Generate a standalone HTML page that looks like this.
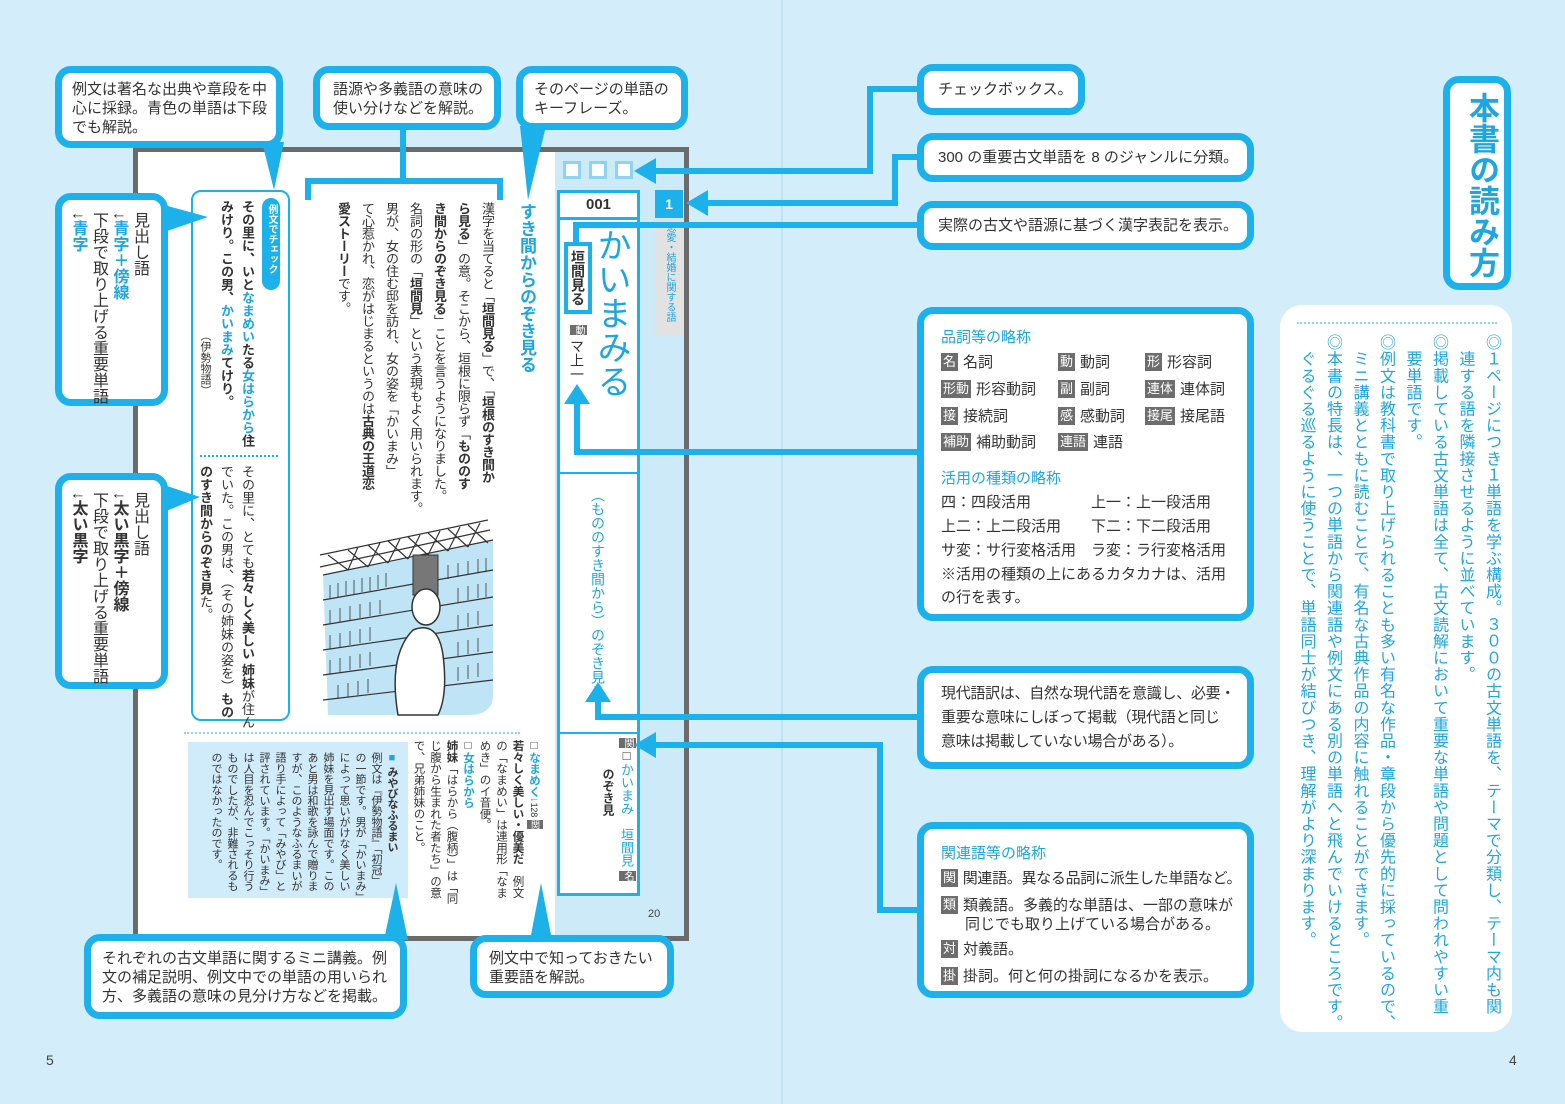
<!DOCTYPE html>
<html><head><meta charset="utf-8">
<style>
*{margin:0;padding:0;box-sizing:border-box}
body{width:1565px;height:1104px;background:#d3edfa;position:relative;overflow:hidden;font-family:"Liberation Sans","Noto Sans CJK JP",sans-serif;color:#333}
.a{position:absolute}
.v{position:absolute;writing-mode:vertical-rl;white-space:nowrap}
.cb{position:absolute;background:#fff;border:7px solid #1cb1ea;border-radius:16px;font-size:15px;line-height:19px;color:#333;white-space:nowrap}
.b{color:#1fa6e0}
.bd{font-weight:bold}
.tag{display:inline-block;background:#6d6d6d;color:#fff;font-size:13px;line-height:18px;padding:0 2px;margin-right:5px;vertical-align:1px}
.row{position:absolute;font-size:15px;white-space:nowrap}
</style></head><body>
<div class="a" style="left:781px;top:0;width:2px;height:1104px;background:#c2e3f4"></div>

<div class="a" style="left:133px;top:147px;width:556px;height:794px;border:5px solid #6b6b6b;background:#fff"></div>
<div class="a" style="left:555px;top:152px;width:129px;height:784px;background:#cdeaf8"></div>
<div class="a" style="left:563px;top:161px;width:18px;height:18px;border:3px solid #8fd3f3;background:#fff"></div>
<div class="a" style="left:589px;top:161px;width:18px;height:18px;border:3px solid #8fd3f3;background:#fff"></div>
<div class="a" style="left:615px;top:161px;width:18px;height:18px;border:3px solid #8fd3f3;background:#fff"></div>
<div class="a" style="left:557px;top:190px;width:83px;height:706px;border:3px solid #1cb1ea;background:#fff"></div>
<div class="a" style="left:557px;top:217px;width:83px;height:3px;background:#1cb1ea"></div>
<div class="a" style="left:557px;top:472px;width:83px;height:2px;background:#1cb1ea"></div>
<div class="a" style="left:557px;top:732px;width:83px;height:2px;background:#1cb1ea"></div>
<div class="a bd" style="left:560px;top:196px;width:77px;text-align:center;font-size:15px;color:#333">001</div>
<div class="v b" style="left:592px;top:228px;font-size:34px;line-height:38px">かいまみる</div>
<div class="v bd" style="left:564px;top:242px;width:28px;height:72px;border:4px solid #1cb1ea;font-size:14px;line-height:20px;padding-top:4px">垣間見る</div>
<div class="v" style="left:568px;top:325px;font-size:14px;line-height:18px"><span class="tag" style="font-size:10px;line-height:13px;margin:0 0 4px 0">動</span>マ上一</div>
<div class="v b" style="left:588px;top:488px;font-size:14px;line-height:20px">（もののすき間から）のぞき見る</div>
<div class="v" style="left:617px;top:738px;font-size:13px;line-height:18px"><span class="tag" style="font-size:10px;line-height:13px">関</span>□<span class="b">かいまみ　垣間見</span> <span class="tag" style="font-size:10px;line-height:13px">名</span></div>
<div class="v bd" style="left:600px;top:768px;font-size:12px;line-height:16px">のぞき見</div>
<div class="a" style="left:655px;top:190px;width:28px;height:28px;background:#1cb1ea;color:#fff;font-weight:bold;text-align:center;line-height:28px;font-size:14px">1</div>
<div class="v b" style="left:655px;top:218px;width:28px;height:118px;background:#e2e2e2;font-size:10px;line-height:28px;padding-top:4px">恋愛・結婚に関する語</div>
<div class="a" style="left:648px;top:908px;font-size:11px;color:#444">20</div>

<div class="v b bd" style="left:515px;top:203px;font-size:17px;line-height:22px">すき間からのぞき見る</div>
<div class="v" style="left:331px;top:202px;width:168px;font-size:13px;line-height:24px;letter-spacing:-0.5px">漢字を当てると「<b>垣間見る</b>」で、「<b>垣根のすき間か</b><br><b>ら見る</b>」の意。そこから、垣根に限らず「<b>もののす</b><br><b>き間からのぞき見る</b>」ことを言うようになりました。<br>名詞の形の「<b>垣間見</b>」という表現もよく用いられます。<br>男が、女の住む邸を訪れ、女の姿を「かいまみ」<br>て心惹かれ、恋がはじまるというのは<b>古典の王道恋</b><br><b>愛ストーリー</b>です。</div>
<div class="a" style="left:305px;top:178px;width:198px;height:22px;border:6px solid #1cb1ea;border-bottom:none"></div>
<div class="a" style="left:400px;top:128px;width:6px;height:52px;background:#1cb1ea"></div>

<div class="a" style="left:191px;top:190px;width:99px;height:531px;border:2px solid #1cb1ea;border-radius:10px;background:#fff"></div>
<div class="v" style="left:262px;top:198px;width:18px;height:92px;background:#1cb1ea;border-radius:9px;color:#fff;font-size:10px;line-height:18px;padding-top:6px;font-weight:bold">例文でチェック</div>
<div class="v bd" style="left:196px;top:200px;width:62px;font-size:13px;line-height:21px">その里に、いと<span class="b">なまめい</span>たる<span class="b">女はらから</span>住<br>みけり。この男、<span class="b">かいまみ</span>てけり。<br><span style="font-weight:normal;font-size:11px;padding-top:130px;display:inline-block">（伊勢物語）</span></div>
<div class="a" style="left:200px;top:455px;width:78px;border-top:2px dotted #1cb1ea"></div>
<div class="v" style="left:196px;top:465px;width:62px;font-size:13px;line-height:21px">その里に、とても<b>若々しく美しい 姉妹</b>が住ん<br>でいた。この男は、（その姉妹の姿を）<b>もの</b><br><b>のすき間からのぞき見</b>た。</div>

<svg class="a" style="left:318px;top:515px" width="180" height="205" viewBox="0 0 180 205">
<path d="M5 60 L175 25 L175 180 Q175 200 150 200 L10 200 Z" fill="#bfe4f6"/>
<g stroke="#333" stroke-width="1.2" fill="none">
<path d="M2 40 L170 5 M2 52 L172 15 M5 60 L175 25"/>
<path d="M10 40 L30 55 M30 35 L50 52 M50 30 L70 48 M70 26 L90 44 M90 22 L110 40 M110 18 L130 36 M130 14 L150 32 M150 10 L170 28 M30 55 L40 32 M50 52 L62 28 M70 48 L82 24 M90 44 L102 20 M110 40 L122 16 M130 36 L142 12 M150 32 L162 8"/>
<path d="M5 85 L175 55 M5 110 L175 82 M5 135 L175 110 M5 160 L175 137 M5 185 L175 165"/>
</g>
<g stroke="#333" stroke-width="0.8">
<path d="M12 70v14M20 68v14M28 66v14M36 65v14M44 63v14M52 62v14M60 60v14M68 58v14M130 50v14M140 48v14M150 46v14M160 44v14M168 43v14M12 95v14M22 93v14M32 91v14M42 89v14M52 87v14M62 85v14M140 73v14M150 71v14M160 69v14M168 68v14M12 120v14M22 118v14M32 116v14M42 114v14M52 112v14M140 100v14M150 98v14M160 96v14M12 145v14M22 143v14M32 141v14M42 139v14M52 137v14M140 127v14M150 125v14M160 123v14M20 170v14M30 168v14M40 166v14M50 164v14M140 152v14M150 150v14M160 148v14"/>
</g>
<path d="M95 40 h25 v40 h-25z" fill="#777" stroke="#333"/>
<ellipse cx="108" cy="92" rx="14" ry="18" fill="#fff" stroke="#333" stroke-width="1.5"/>
<path d="M80 200 Q70 140 95 115 Q120 105 125 140 Q130 180 120 200 Z" fill="#fff" stroke="#333" stroke-width="1.5"/>
</svg>

<div class="a" style="left:184px;top:732px;width:336px;border-top:2px dotted #8fd3f3"></div>
<div class="a" style="left:188px;top:742px;width:220px;height:156px;background:#d0ebf9"></div>
<div class="v" style="left:200px;top:752px;width:200px;font-size:11px;line-height:16px;letter-spacing:-0.3px"><b><span class="b">■</span> みやびなふるまい</b><br>例文は『伊勢物語』「初冠」<br>の一節です。男が「かいまみ」<br>によって思いがけなく美しい<br>姉妹を見出す場面です。この<br>あと男は和歌を詠んで贈りま<br>すが、このようなふるまいが<br>語り手によって「みやび」と<br>評されています。「かいまみ」<br>は人目を忍んでこっそり行う<br>ものでしたが、非難されるも<br>のではなかったのです。</div>
<div class="v" style="left:416px;top:740px;width:132px;font-size:11.5px;line-height:16.5px;letter-spacing:-0.2px">□<b class="b">なまめく↓</b><small style="font-size:9px">128</small> <span class="tag" style="font-size:9px;line-height:12px">関</span><br><b>若々しく美しい・優美だ</b>　例文<br>の「なまめい」は連用形「なま<br>めき」のイ音便。<br>□<b class="b">女はらから</b><br><b>姉妹</b>「はらから（腹柄）」は「同<br>じ腹から生まれた者たち」の意<br>で、兄弟姉妹のこと。</div>

<svg class="a" style="left:0;top:0" width="1565" height="1104">
<g stroke="#1cb1ea" stroke-width="6" fill="none">
<path d="M920 89 H870 V171 H650"/>
<path d="M920 157 H895 V203 H700"/>
<path d="M920 225 H576 V242"/>
<path d="M920 452 H577 V400"/>
<path d="M920 717 H598 V700"/>
<path d="M920 910 H880 V745 H650"/>
</g>
<g fill="#1cb1ea">
<path d="M634 171 L656 158 L656 184Z"/>
<path d="M686 203 L708 190 L708 216Z"/>
<path d="M577 384 L564 404 L590 404Z"/>
<path d="M598 682 L585 702 L611 702Z"/>
<path d="M634 745 L656 732 L656 758Z"/>
<path d="M262 142 L284 142 L274 190Z"/>
<path d="M520 126 L546 126 L528 200Z"/>
<path d="M164 205 L164 232 L208 217Z"/>
<path d="M164 485 L164 512 L200 497Z"/>
<path d="M384 940 L408 940 L396 883Z"/>
<path d="M530 940 L552 940 L541 883Z"/>
</g>
</svg>

<div class="cb" style="left:55px;top:66px;width:228px;height:82px;padding:7px 10px">例文は著名な出典や章段を中<br>心に採録。青色の単語は下段<br>でも解説。</div>
<div class="cb" style="left:313px;top:66px;width:188px;height:64px;padding:7px 13px">語源や多義語の意味の<br>使い分けなどを解説。</div>
<div class="cb" style="left:516px;top:66px;width:172px;height:64px;padding:7px 11px">そのページの単語の<br>キーフレーズ。</div>
<div class="cb" style="left:55px;top:193px;width:113px;height:213px"><div class="v" style="right:12px;top:12px;font-size:16px;line-height:20.5px">見出し語<br>↓<span class="b bd">青字＋傍線</span><br>下段で取り上げる重要単語<br>↓<span class="b bd">青字</span></div></div>
<div class="cb" style="left:55px;top:473px;width:113px;height:216px"><div class="v" style="right:12px;top:12px;font-size:16px;line-height:20.5px">見出し語<br>↓<b>太い黒字＋傍線</b><br>下段で取り上げる重要単語<br>↓<b>太い黒字</b></div></div>
<div class="cb" style="left:84px;top:934px;width:323px;height:85px;padding:8px 11px">それぞれの古文単語に関するミニ講義。例<br>文の補足説明、例文中での単語の用いられ<br>方、多義語の意味の見分け方などを掲載。</div>
<div class="cb" style="left:470px;top:935px;width:204px;height:63px;padding:7px 12px">例文中で知っておきたい<br>重要語を解説。</div>

<div class="cb" style="left:917px;top:64px;width:168px;height:51px;padding:7px 14px;line-height:23px">チェックボックス。</div>
<div class="cb" style="left:917px;top:133px;width:337px;height:49px;padding:7px 14px;line-height:22px">300 の重要古文単語を 8 のジャンルに分類。</div>
<div class="cb" style="left:917px;top:201px;width:337px;height:49px;padding:7px 14px;line-height:22px">実際の古文や語源に基づく漢字表記を表示。</div>

<div class="cb" style="left:917px;top:307px;width:337px;height:314px">
<div class="row b" style="left:17px;top:14px">品詞等の略称</div>
<div class="row" style="left:17px;top:39px"><span class="tag">名</span>名詞</div>
<div class="row" style="left:134px;top:39px"><span class="tag">動</span>動詞</div>
<div class="row" style="left:221px;top:39px"><span class="tag">形</span>形容詞</div>
<div class="row" style="left:17px;top:66px"><span class="tag">形動</span>形容動詞</div>
<div class="row" style="left:134px;top:66px"><span class="tag">副</span>副詞</div>
<div class="row" style="left:221px;top:66px"><span class="tag">連体</span>連体詞</div>
<div class="row" style="left:17px;top:93px"><span class="tag">接</span>接続詞</div>
<div class="row" style="left:134px;top:93px"><span class="tag">感</span>感動詞</div>
<div class="row" style="left:221px;top:93px"><span class="tag">接尾</span>接尾語</div>
<div class="row" style="left:17px;top:119px"><span class="tag">補助</span>補助動詞</div>
<div class="row" style="left:134px;top:119px"><span class="tag">連語</span>連語</div>
<div class="row b" style="left:17px;top:155px">活用の種類の略称</div>
<div class="row" style="left:17px;top:179px">四：四段活用</div>
<div class="row" style="left:167px;top:179px">上一：上一段活用</div>
<div class="row" style="left:17px;top:203px">上二：上二段活用</div>
<div class="row" style="left:167px;top:203px">下二：下二段活用</div>
<div class="row" style="left:17px;top:227px">サ変：サ行変格活用</div>
<div class="row" style="left:167px;top:227px">ラ変：ラ行変格活用</div>
<div class="row" style="left:17px;top:251px">※活用の種類の上にあるカタカナは、活用</div>
<div class="row" style="left:17px;top:274px">の行を表す。</div>
</div>

<div class="cb" style="left:917px;top:666px;width:337px;height:103px;padding:9px 17px;line-height:24px;letter-spacing:-0.3px">現代語訳は、自然な現代語を意識し、必要・<br>重要な意味にしぼって掲載（現代語と同じ<br>意味は掲載していない場合がある）。</div>

<div class="cb" style="left:917px;top:822px;width:337px;height:176px">
<div class="row b" style="left:17px;top:15px">関連語等の略称</div>
<div class="row" style="left:17px;top:40px;letter-spacing:-0.3px"><span class="tag">関</span>関連語。異なる品詞に派生した単語など。</div>
<div class="row" style="left:17px;top:67px;line-height:19px"><span class="tag">類</span>類義語。多義的な単語は、一部の意味が<br><span style="padding-left:24px">同じでも取り上げている場合がある。</span></div>
<div class="row" style="left:17px;top:111px"><span class="tag">対</span>対義語。</div>
<div class="row" style="left:17px;top:138px"><span class="tag">掛</span>掛詞。何と何の掛詞になるかを表示。</div>
</div>

<div class="cb" style="left:1443px;top:76px;width:68px;height:214px"><div class="v b bd" style="left:11px;top:9px;font-size:31px;line-height:40px">本書の読み方</div></div>

<div class="a" style="left:1280px;top:305px;width:232px;height:727px;background:#fff;border-radius:22px"></div>
<div class="a" style="left:1297px;top:322px;width:200px;border-top:2px dotted #8fd3f3"></div>
<div class="v b" style="left:1292px;top:334px;width:212px;height:690px;font-size:16px;line-height:26.5px;letter-spacing:0.6px">◎１ページにつき１単語を学ぶ構成。３００の古文単語を、テーマで分類し、テーマ内も関<br>　連する語を隣接させるように並べています。<br>◎掲載している古文単語は全て、古文読解において重要な単語や問題として問われやすい重<br>　要単語です。<br>◎例文は教科書で取り上げられることも多い有名な作品・章段から優先的に採っているので、<br>　ミニ講義とともに読むことで、有名な古典作品の内容に触れることができます。<br>◎本書の特長は、一つの単語から関連語や例文にある別の単語へと飛んでいけるところです。<br>　ぐるぐる巡るように使うことで、単語同士が結びつき、理解がより深まります。</div>

<div class="a" style="left:46px;top:1052px;font-size:14px;color:#444">5</div>
<div class="a" style="left:1509px;top:1052px;font-size:14px;color:#444">4</div>
</body></html>
